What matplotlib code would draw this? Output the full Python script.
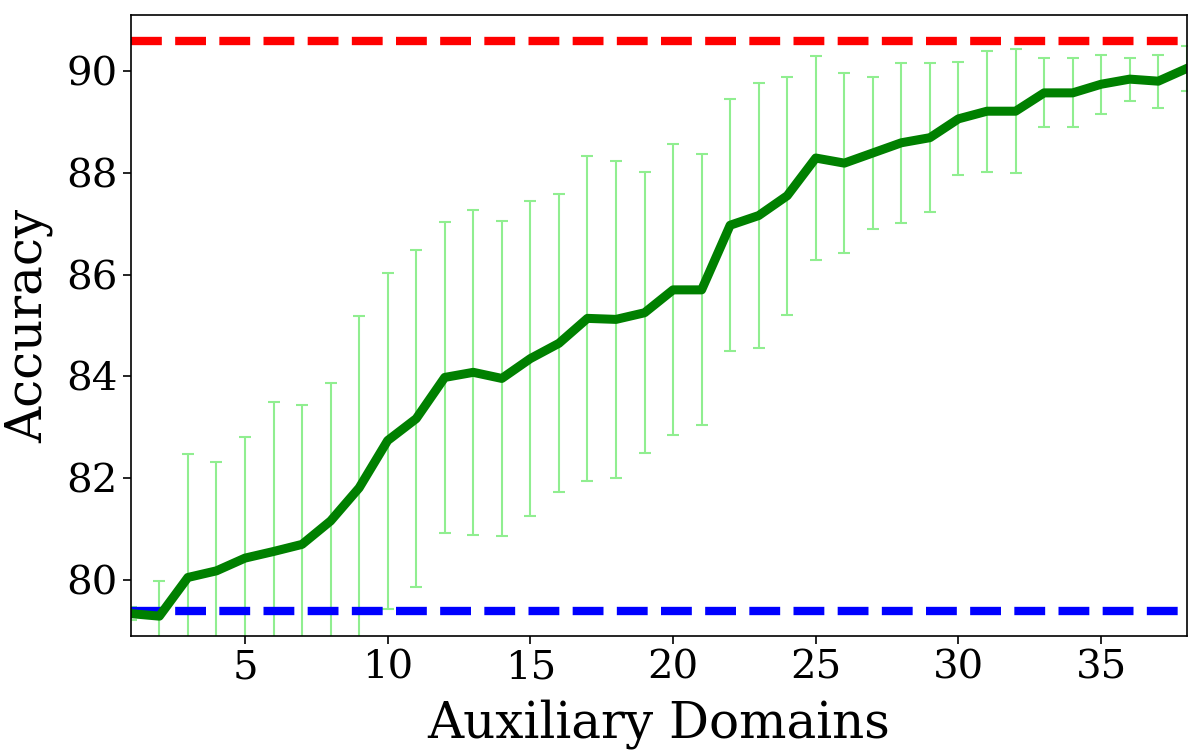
import numpy as np
import matplotlib
matplotlib.use('Agg')
import matplotlib.pyplot as plt

plt.rcParams['font.family'] = 'DejaVu Serif'

# number of auxiliary domains
domains = list(range(1, 39))
# mean accuracy per domain count
acc_mean = [79.34, 79.29, 80.05, 80.18, 80.43, 80.56, 80.70, 81.16, 81.81, 82.74,
            83.17, 83.98, 84.08, 83.96, 84.35, 84.65, 85.14, 85.12, 85.25, 85.70,
            85.70, 86.97, 87.16, 87.55, 88.29, 88.19, 88.39, 88.59, 88.69, 89.06,
            89.21, 89.21, 89.57, 89.57, 89.74, 89.84, 89.80, 90.05]
# std of accuracy
acc_std = [0.13, 0.69, 2.42, 2.14, 2.38, 2.93, 2.73, 2.72, 3.37, 3.30,
           3.31, 3.05, 3.19, 3.10, 3.09, 2.93, 3.19, 3.12, 2.76, 2.86,
           2.66, 2.47, 2.60, 2.34, 2.01, 1.77, 1.50, 1.57, 1.47, 1.11,
           1.19, 1.22, 0.68, 0.68, 0.58, 0.42, 0.52, 0.45]
upper_bound = 90.58
lower_bound = 79.40

fig = plt.figure(figsize=(12, 7.5), dpi=100)
plt.subplots_adjust(left=0.109, right=0.989, top=0.98, bottom=0.152)
ax = plt.gca()

plt.errorbar(domains, acc_mean, yerr=acc_std, color='green', ecolor='lightgreen',
             linewidth=6.5, elinewidth=1.5, capsize=4, capthick=1.5)
plt.plot([domains[0], domains[-1]], [upper_bound, upper_bound], 'r--', linewidth=6)
plt.plot([domains[0], domains[-1]], [lower_bound, lower_bound], 'b--', linewidth=6)

plt.xlim(1, 38)
plt.ylim(78.9, 91.1)
plt.xticks(range(5, 38, 5), fontsize=29)
plt.yticks(range(80, 91, 2), fontsize=29)
ax.tick_params(length=6, width=1.2)
for s in ax.spines.values():
    s.set_linewidth(1.2)
plt.xlabel('Auxiliary Domains', fontsize=36, labelpad=9)
plt.ylabel('Accuracy', fontsize=36, labelpad=9)

fig.savefig('out.png')
plt.close(fig)
